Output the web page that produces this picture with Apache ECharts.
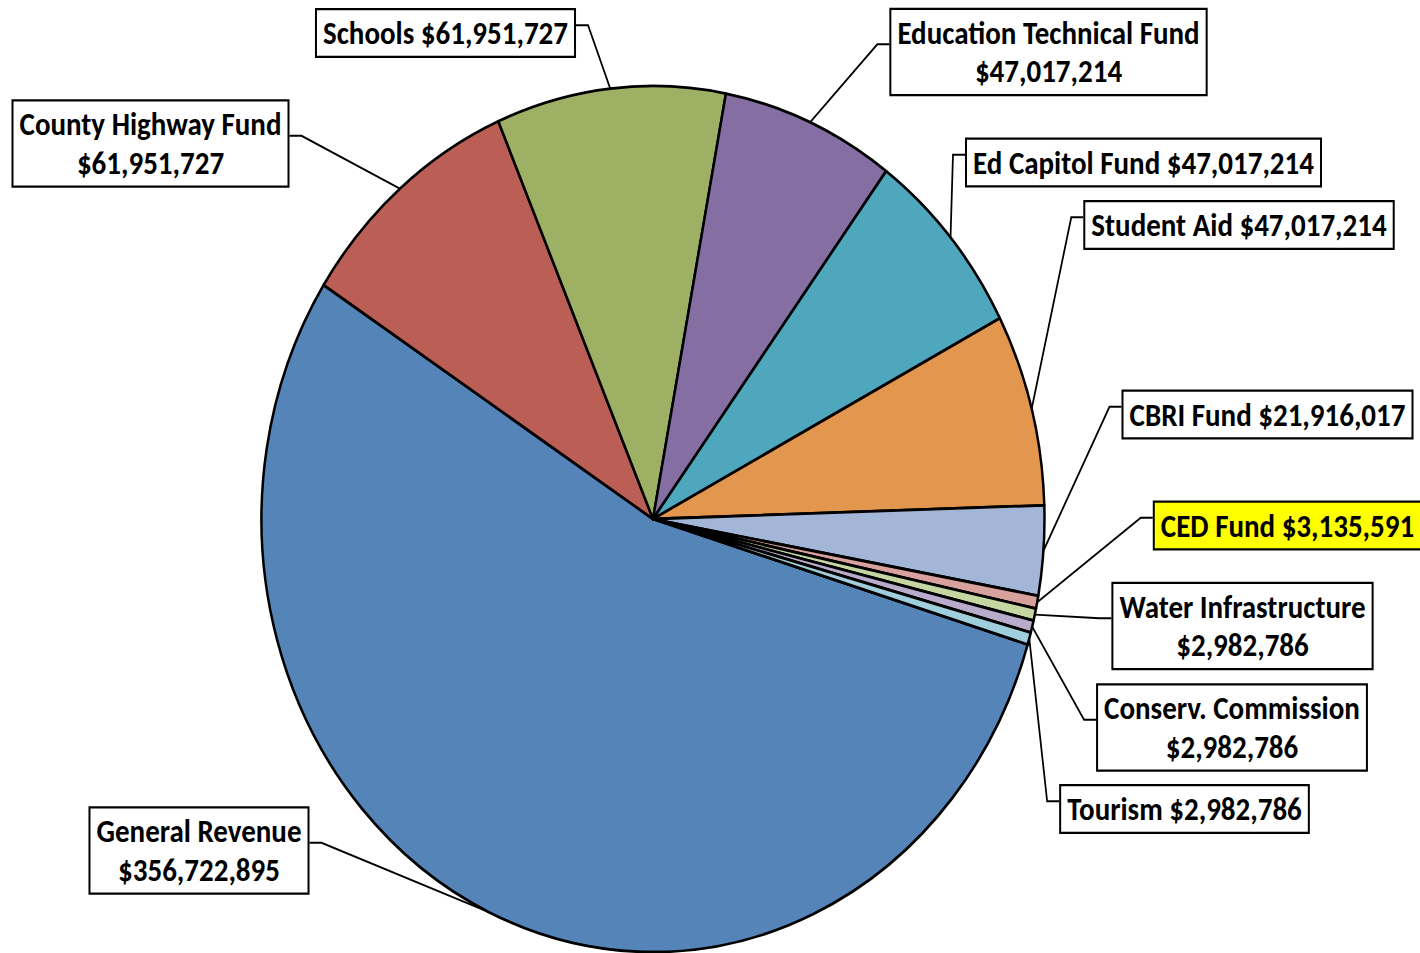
<!DOCTYPE html>
<html>
<head>
<meta charset="utf-8">
<title>Revenue by fund</title>
<script src="https://cdn.jsdelivr.net/npm/echarts@6/dist/echarts.min.js"></script>
<style>
  html, body { margin: 0; padding: 0; background: #fff; width: 1420px; height: 953px; overflow: hidden; }
  /* the source picture was stretched vertically, so the whole chart is too */
  #chart { width: 1420px; height: 862px; transform: scaleY(1.106); transform-origin: 0 0; }
</style>
</head>
<body>
<div id="chart"></div>
<script>
// data, clockwise from the General Revenue slice
const categories = [
  'General Revenue', 'County Highway Fund', 'Schools', 'Education Technical Fund',
  'Ed Capitol Fund', 'Student Aid', 'CBRI Fund', 'CED Fund',
  'Water Infrastructure', 'Conserv. Commission', 'Tourism'
];
const values = [
  356722895, 61951727, 61951727, 47017214,
  47017214, 47017214, 21916017, 3135591,
  2982786, 2982786, 2982786
];
const colors = [
  '#5585b8', '#bb5e56', '#9db063', '#856ea2',
  '#4fa7bd', '#e3964e', '#a3b6d8', '#d9a19d',
  '#c5d6a2', '#b8abcb', '#9fcfdc'
];
const wrapped = ['General Revenue', 'County Highway Fund', 'Education Technical Fund',
  'Water Infrastructure', 'Conserv. Commission'];
const highlighted = 'CED Fund';

// layout: label box centres in page pixels
const labelBoxes = [
  [199, 850.5], [150.5, 143.5], [445.5, 33], [1048.5, 52],
  [1143.5, 162.5], [1239, 225], [1267.5, 414.5], [1287.5, 525.5],
  [1242.5, 626], [1232, 727.5], [1184.5, 809]
];
const SY = 1.106;   // vertical stretch
const STUB = 12;    // horizontal leader end
const HOOK = 7;     // leader meets box a bit above its middle

const fmt = v => '$' + v.toLocaleString('en-US');

const chart = echarts.init(document.getElementById('chart'), null, { renderer: 'svg' });

chart.setOption({
  animation: false,
  backgroundColor: '#fff',
  series: [{
    type: 'pie',
    center: [653, 519 / SY],
    radius: 391.5,
    startAngle: -16.85,
    clockwise: true,
    avoidLabelOverlap: false,
    emphasis: { disabled: true },
    data: categories.map((name, i) => ({
      name: name,
      value: values[i],
      itemStyle: { color: colors[i] },
      label: name === highlighted ? { backgroundColor: '#ffff00' } : undefined
    })),
    itemStyle: { borderColor: '#000', borderWidth: 2.5 },
    label: {
      show: true,
      position: 'outside',
      formatter: p => p.name + (wrapped.includes(p.name) ? '\n' : ' ') + fmt(p.value),
      color: '#000',
      fontFamily: 'Carlito, "Liberation Sans Narrow", "Open Sans", sans-serif',
      fontWeight: 'bold',
      fontSize: 29,
      lineHeight: 35,
      align: 'center',
      backgroundColor: '#fff',
      borderColor: '#000',
      borderWidth: 2,
      padding: [3, 6]
    },
    labelLine: {
      show: true,
      length: 10,
      length2: STUB,
      lineStyle: { color: '#000', width: 1.75 }
    },
    labelLayout: function (p) {
      const b = labelBoxes[p.dataIndex];
      const x = b[0], y = b[1] / SY;
      const res = { x: x, y: y, align: 'center', verticalAlign: 'middle' };
      const a = p.labelLinePoints && p.labelLinePoints[0];
      if (a) {
        const w = p.labelRect.width;
        const right = a[0] > x;
        const side = right ? x + w / 2 : x - w / 2;
        const stub = right ? side + STUB : side - STUB;
        const ly = y - HOOK;
        res.labelLinePoints = [a, [stub, ly], [side, ly]];
      }
      return res;
    }
  }]
});

window.addEventListener('resize', () => chart.resize());
</script>
</body>
</html>
